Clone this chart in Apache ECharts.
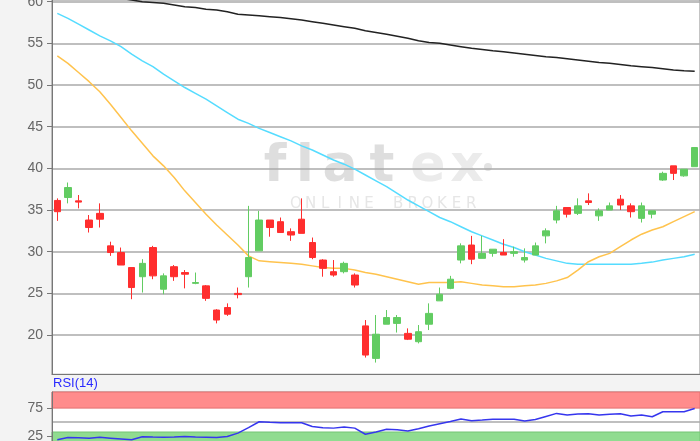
<!DOCTYPE html>
<html>
<head>
<meta charset="utf-8">
<script src="https://cdn.jsdelivr.net/npm/echarts@6/dist/echarts.min.js"></script>
<style>html,body{margin:0;padding:0;background:#f3f3f3;}#c{width:700px;height:441px;}</style>
</head>
<body>
<div id="c"></div>
<script>
var categories = [];
for (var k = 1; k <= 61; k++) categories.push(String(k));

var openV  = [36.15,36.5,36.1,33.8,34.6,30.7,29.9,28.1,27.0,30.5,25.5,28.2,27.5,26.2,25.9,23.0,23.3,25.0,27.0,30.1,33.8,33.6,32.4,33.9,31.1,29.0,27.6,27.6,27.2,21.1,17.2,21.3,21.4,20.2,19.2,21.3,24.1,25.6,29.0,30.8,29.2,29.8,29.9,29.8,29.0,29.6,31.9,33.8,35.3,34.6,36.1,34.3,35.0,36.3,35.5,34.0,34.5,38.6,40.3,39.1,40.2];
var closeV = [34.8,37.7,35.95,32.9,33.9,29.9,28.4,25.7,28.6,27.1,27.1,27.0,27.3,26.3,24.4,21.8,22.5,24.85,29.3,33.8,32.9,32.3,32.0,32.2,29.3,28.0,27.2,28.6,26.0,17.6,20.1,22.1,22.1,19.5,20.4,22.6,24.9,26.7,30.7,29.1,29.8,30.3,29.6,30.0,29.3,30.7,32.5,34.9,34.5,35.5,35.9,34.9,35.5,35.6,34.8,35.5,34.9,39.4,39.4,39.9,42.5];
var lowV   = [33.7,35.8,35.2,32.3,32.9,29.5,28.4,24.3,25.1,26.7,24.9,26.5,25.6,26.1,24.1,21.4,22.3,24.4,25.7,30.1,31.8,32.3,31.3,32.2,29.1,27.0,27.0,27.4,25.7,17.3,16.7,21.3,20.3,19.4,19.0,20.6,24.1,25.5,28.6,28.5,29.2,29.4,29.6,29.4,28.7,29.6,31.0,33.4,34.1,34.4,35.6,33.7,35.0,35.0,34.1,33.5,34.0,38.5,38.6,39.0,40.2];
var highV  = [36.4,38.3,36.8,34.4,35.8,31.2,30.5,28.1,29.1,30.7,27.4,28.4,27.8,27.5,26.0,23.1,23.8,25.7,35.5,34.9,33.8,34.1,32.8,36.4,31.7,29.1,29.0,28.8,27.4,21.8,22.4,23.0,22.4,20.8,21.2,23.8,25.7,27.1,31.0,31.9,31.9,30.3,31.5,30.6,30.4,31.1,32.8,35.5,35.3,36.4,37.0,35.2,35.9,36.8,35.8,35.9,34.9,39.6,40.3,39.9,42.5];

var maLong  = [61.5,61.3,61.1,60.9,60.7,60.6,60.4,60.2,60.0,59.9,59.8,59.6,59.4,59.3,59.1,59.0,58.8,58.5,58.4,58.3,58.2,58.1,57.95,57.8,57.6,57.4,57.2,57.0,56.8,56.5,56.3,56.1,55.85,55.6,55.3,55.1,55.0,54.8,54.6,54.4,54.25,54.1,54.0,53.85,53.7,53.55,53.4,53.3,53.15,53.0,52.85,52.7,52.6,52.45,52.3,52.2,52.1,51.95,51.8,51.7,51.65];
var maMid   = [58.6,58.0,57.3,56.6,55.9,55.3,54.6,53.7,52.9,52.2,51.3,50.5,49.7,49.0,48.3,47.5,46.7,45.9,45.4,44.8,44.3,43.8,43.3,42.7,42.2,41.6,41.0,40.5,39.9,39.2,38.5,37.8,37.0,36.2,35.5,34.8,34.1,33.6,33.0,32.4,31.9,31.4,30.9,30.5,30.0,29.6,29.2,28.9,28.6,28.5,28.5,28.5,28.5,28.5,28.5,28.6,28.75,29.0,29.2,29.4,29.7];
var maShort = [53.5,52.6,51.5,50.4,49.2,47.7,46.1,44.5,43.0,41.5,40.3,38.9,37.3,35.9,34.5,33.2,32.0,30.8,29.5,28.9,28.8,28.7,28.6,28.5,28.3,28.1,28.0,28.0,27.8,27.5,27.3,27.0,26.7,26.4,26.1,26.3,26.3,26.3,26.4,26.2,26.0,25.9,25.8,25.8,25.9,26.0,26.2,26.5,26.9,27.8,28.8,29.4,29.8,30.6,31.4,32.1,32.6,33.0,33.6,34.2,34.8];

var rsiV = [18,22,21.5,21,22.5,21,19.5,18,23.5,23,22.7,23,23.8,23,22.5,22,24,30,40,50.5,49.5,48.8,48.5,48.8,42,39.5,39,41,39,28,32,37,36,34,38,43,47,51,55.4,52.4,53.5,54.8,54.8,54.8,52,54.5,60,65.5,62.5,64.5,65,62.5,64,65,61,62.5,59.5,68.4,68.4,68.4,74.4];

var priceTicks = [20,25,30,35,40,45,50,55,60];
var rsiTicks = [25,75];
var rsiMid = 50;
var rsiOverbought = 75;
var rsiOversold = 32;

var candleData = openV.map(function(o,i){ return [o, closeV[i], lowV[i], highV[i]]; });

var chart = echarts.init(document.getElementById('c'), null, {renderer:'canvas'});

var wmLetters = [
  {t:'f', x:275, c:'#dedede'}, {t:'l', x:305, c:'#dedede'}, {t:'a', x:340, c:'#dedede'},
  {t:'t', x:382, c:'#dedede'}, {t:'e', x:428, c:'#ebebeb'}, {t:'x', x:467, c:'#ebebeb'}
];
var graphics = wmLetters.map(function(L){
  return {type:'text', z:0, silent:true, x:L.x, y:167,
    style:{text:L.t, font:'bold 52px "DejaVu Sans"', fill:L.c, align:'center', verticalAlign:'middle'}};
});
graphics.push({type:'circle', z:0, silent:true, shape:{cx:488, cy:167, r:4}, style:{fill:'#e3e3e3'}});
var sub = 'ONLINE BROKER';
for (var j = 0; j < sub.length; j++) {
  if (sub[j] === ' ') continue;
  graphics.push({type:'text', z:0, silent:true, x:296 + j*14.6, y:204,
    style:{text:sub[j], font:'15px "DejaVu Sans"', fill:'#e6e6e6', align:'center', verticalAlign:'middle'}});
}
graphics.push({type:'text', z:5, silent:true, x:53, y:390,
  style:{text:'RSI(14)', font:'13px "Liberation Sans"', fill:'#2a2aff', align:'left', verticalAlign:'bottom'}});

var option = {
  animation:false,
  backgroundColor:'#f3f3f3',
  graphic: graphics,
  grid:[
    {left:52, right:0, top:0, height:374.3, outerBoundsMode:'none', containLabel:false, show:true, backgroundColor:'#fff', borderColor:'#888', borderWidth:1},
    {left:52, right:0, top:392, height:57.8, outerBoundsMode:'none', containLabel:false, show:true, backgroundColor:'#fff', borderColor:'#999', borderWidth:1}
  ],
  xAxis:[
    {type:'category', data:categories, gridIndex:0, z:1, axisLine:{show:true, lineStyle:{color:'#777', width:1}}, axisTick:{show:false}, axisLabel:{show:false}, splitLine:{show:false}},
    {type:'category', data:categories, gridIndex:1, z:1, axisLine:{show:false}, axisTick:{show:false}, axisLabel:{show:false}, splitLine:{show:false}}
  ],
  yAxis:[
    {type:'value', gridIndex:0, min:15.29, max:60.2, z:1,
      axisLine:{show:true, lineStyle:{color:'#777', width:1}},
      axisTick:{show:true, length:5, inside:false, lineStyle:{color:'#777'}, customValues:priceTicks},
      axisLabel:{customValues:priceTicks, color:'#666', fontSize:14, fontFamily:'Liberation Sans', margin:9},
      splitLine:{show:true, lineStyle:{color:'#aaaaaa', width:1.5}}},
    {type:'value', gridIndex:1, min:0, max:104, z:1,
      axisLine:{show:true, lineStyle:{color:'#777', width:1}},
      axisTick:{show:true, length:5, lineStyle:{color:'#777'}, customValues:rsiTicks},
      axisLabel:{customValues:rsiTicks, color:'#666', fontSize:14, fontFamily:'Liberation Sans', margin:9},
      splitLine:{show:false}}
  ],
  series:[
    {type:'line', data:maLong, xAxisIndex:0, yAxisIndex:0, symbol:'none', lineStyle:{color:'#222', width:1.5}, z:3},
    {type:'line', data:maMid, xAxisIndex:0, yAxisIndex:0, symbol:'none', lineStyle:{color:'#55dcff', width:1.5}, z:3},
    {type:'line', data:maShort, xAxisIndex:0, yAxisIndex:0, symbol:'none', lineStyle:{color:'#ffc34d', width:1.5}, z:3},
    {type:'candlestick', data:candleData, xAxisIndex:0, yAxisIndex:0, barWidth:7, z:4,
      itemStyle:{color:'#62cc62', color0:'#ff2e2e', borderColor:'#62cc62', borderColor0:'#ff2e2e', borderWidth:1}},
    {type:'line', data:rsiV, xAxisIndex:1, yAxisIndex:1, symbol:'none', lineStyle:{color:'#3636ee', width:1.5}, z:3,
      markArea:{silent:true, z:1, data:[
        [{yAxis:rsiOverbought, itemStyle:{color:'#ff8c8c', borderColor:'#e47070', borderWidth:1}}, {yAxis:104}],
        [{yAxis:0, itemStyle:{color:'#90dc90', borderColor:'#74c474', borderWidth:1}}, {yAxis:rsiOversold}]
      ]},
      markLine:{silent:true, symbol:'none', z:1, label:{show:false}, lineStyle:{color:'#aaaaaa', width:1.5, type:'solid'}, data:[{yAxis:rsiMid}]}
    }
  ]
};
chart.setOption(option);
</script>
</body>
</html>
